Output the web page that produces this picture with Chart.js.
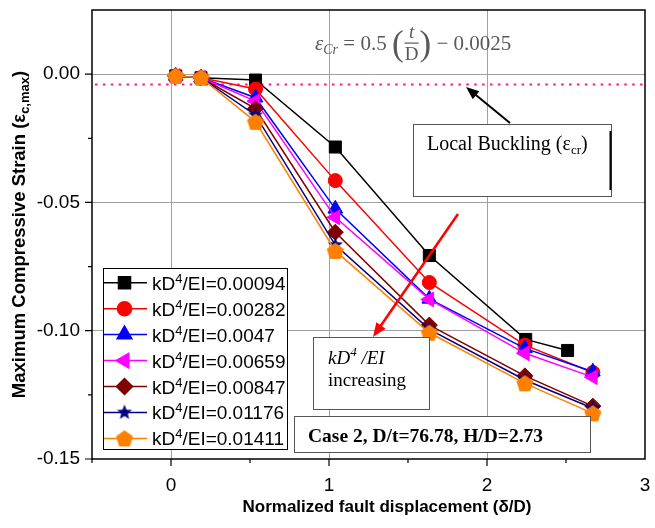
<!DOCTYPE html>
<html lang="en">
<head>
<meta charset="UTF-8">
<title>Maximum Compressive Strain vs Normalized fault displacement</title>
<script src="https://cdn.jsdelivr.net/npm/chart.js"></script>
<style>
  body { margin: 0; background: #fff; }
  #wrap { width: 655px; height: 528px; }
</style>
</head>
<body>
<div id="wrap"><canvas id="strainChart" width="655" height="528"></canvas></div>
<script>
  // kD^4/EI values (legend)
  const stiffness = ['0.00094', '0.00282', '0.0047', '0.00659', '0.00847', '0.01176', '0.01411'];

  // normalized fault displacement (delta/D)
  const dispFirst = [0.03, 0.19, 0.535, 1.04, 1.635, 2.245, 2.51];
  const dispRest = [0.03, 0.19, 0.535, 1.04, 1.635, 2.24, 2.67];

  // maximum compressive strain for each kD^4/EI
  const strainK1 = [-0.0007, -0.0014, -0.0023, -0.0284, -0.0707, -0.1034, -0.1077];
  const strainK2 = [-0.0007, -0.0014, -0.0058, -0.0415, -0.0812, -0.1056, -0.1163];
  const strainK3 = [-0.0007, -0.0014, -0.0092, -0.0525, -0.0876, -0.1069, -0.1160];
  const strainK4 = [-0.0007, -0.0014, -0.0105, -0.0558, -0.0878, -0.1088, -0.1181];
  const strainK5 = [-0.0007, -0.0014, -0.0134, -0.0616, -0.0978, -0.1176, -0.1294];
  const strainK6 = [-0.0007, -0.0014, -0.0160, -0.0666, -0.0995, -0.1192, -0.1302];
  const strainK7 = [-0.0007, -0.0014, -0.0186, -0.0689, -0.1008, -0.1205, -0.1322];

  const xTickLabels = ['0', '1', '2', '3'];
  const yTickLabels = ['0.00', '-0.05', '-0.10', '-0.15'];

  // case 2: D/t = 76.78 -> local buckling strain
  const dOverT = 76.78;
  const bucklingStrain = -(0.5 / dOverT - 0.0025);

  const colors = ['#000000', '#ff0000', '#0000ff', '#ff00ff', '#800000', '#000080', '#ff8000'];

  function makeStar(color, rOut, rIn) {
    const c = document.createElement('canvas');
    c.width = c.height = Math.ceil(rOut * 2 + 2);
    const g = c.getContext('2d');
    const cx = c.width / 2, cy = c.height / 2;
    g.beginPath();
    for (let i = 0; i < 10; i++) {
      const r = i % 2 === 0 ? rOut : rIn;
      const a = -Math.PI / 2 + i * Math.PI / 5;
      g.lineTo(cx + r * Math.cos(a), cy + r * Math.sin(a));
    }
    g.closePath();
    g.fillStyle = color;
    g.fill();
    return c;
  }

  function makePentagon(color, r) {
    const c = document.createElement('canvas');
    c.width = c.height = Math.ceil(r * 2 + 2);
    const g = c.getContext('2d');
    const cx = c.width / 2, cy = c.height / 2 + 0.8;
    g.beginPath();
    for (let i = 0; i < 5; i++) {
      const a = -Math.PI / 2 + i * 2 * Math.PI / 5;
      g.lineTo(cx + r * Math.cos(a), cy + r * Math.sin(a));
    }
    g.closePath();
    g.fillStyle = color;
    g.fill();
    return c;
  }

  const markerStyles = ['rect', 'circle', 'triangle', 'triangle', 'rectRot',
    makeStar('#000080', 8, 3.4), makePentagon('#ff8000', 9)];
  const markerRadius = [8.5, 7, 8.5, 8.5, 8, 8, 9];
  const markerRotation = [0, 0, 0, -90, 0, 0, 0];

  const allStrain = [strainK1, strainK2, strainK3, strainK4, strainK5, strainK6, strainK7];

  const datasets = allStrain.map((ys, i) => {
    const xs = i === 0 ? dispFirst : dispRest;
    return {
      label: 'kD4/EI=' + stiffness[i],
      data: xs.map((x, j) => ({ x: x, y: ys[j] })),
      borderColor: colors[i],
      backgroundColor: colors[i],
      borderWidth: 1.5,
      pointStyle: markerStyles[i],
      pointRadius: markerRadius[i],
      pointHoverRadius: markerRadius[i],
      pointRotation: markerRotation[i],
      pointBorderWidth: 1,
      tension: 0,
      order: 6 - i
    };
  });

  // draw a run of text pieces (for subscripts / superscripts)
  function drawRich(ctx, parts, x, y, align) {
    let total = 0;
    parts.forEach(p => { ctx.font = p.font; p.w = ctx.measureText(p.t).width; total += p.w; });
    let cx = align === 'center' ? x - total / 2 : x;
    ctx.textAlign = 'left';
    ctx.textBaseline = 'alphabetic';
    parts.forEach(p => {
      ctx.font = p.font;
      ctx.fillText(p.t, cx, y + (p.dy || 0));
      cx += p.w;
    });
    return total;
  }

  function drawArrow(ctx, x1, y1, x2, y2, color, width, head) {
    const a = Math.atan2(y2 - y1, x2 - x1);
    ctx.save();
    ctx.strokeStyle = color;
    ctx.fillStyle = color;
    ctx.lineWidth = width;
    ctx.beginPath();
    ctx.moveTo(x1, y1);
    ctx.lineTo(x2 - Math.cos(a) * head * 0.8, y2 - Math.sin(a) * head * 0.8);
    ctx.stroke();
    ctx.beginPath();
    ctx.moveTo(x2, y2);
    ctx.lineTo(x2 - head * Math.cos(a) + head * 0.4 * Math.sin(a), y2 - head * Math.sin(a) - head * 0.4 * Math.cos(a));
    ctx.lineTo(x2 - head * Math.cos(a) - head * 0.4 * Math.sin(a), y2 - head * Math.sin(a) + head * 0.4 * Math.cos(a));
    ctx.closePath();
    ctx.fill();
    ctx.restore();
  }

  const SANS = '"Liberation Sans", Arial, sans-serif';
  const SERIF = '"Liberation Serif", "Times New Roman", serif';

  const extras = {
    id: 'extras',
    beforeDraw(chart) {
      const ctx = chart.ctx;
      ctx.save();
      ctx.fillStyle = '#fff';
      ctx.fillRect(0, 0, chart.width, chart.height);
      ctx.restore();
    },
    beforeDatasetsDraw(chart) {
      // local buckling strain line
      const ctx = chart.ctx, a = chart.chartArea;
      const y = chart.scales.y.getPixelForValue(bucklingStrain);
      ctx.save();
      ctx.strokeStyle = '#ff1493';
      ctx.lineWidth = 2;
      ctx.setLineDash([2.5, 5.4]);
      ctx.beginPath();
      ctx.moveTo(a.left + 3, y);
      ctx.lineTo(a.right, y);
      ctx.stroke();
      ctx.restore();
    },
    afterDraw(chart) {
      const ctx = chart.ctx, a = chart.chartArea;
      const xs = chart.scales.x, ys = chart.scales.y;
      ctx.save();

      // frame and tick marks
      ctx.strokeStyle = '#000';
      ctx.lineWidth = 1.5;
      ctx.strokeRect(a.left, a.top, a.right - a.left, a.bottom - a.top);
      ctx.lineWidth = 1.2;
      ctx.beginPath();
      for (let v = -0.5; v <= 2.5; v += 0.5) {
        const px = xs.getPixelForValue(v);
        const len = Number.isInteger(v) ? 7 : 4;
        ctx.moveTo(px, a.bottom);
        ctx.lineTo(px, a.bottom + len);
      }
      for (let k = 0; k <= 6; k++) {
        const py = ys.getPixelForValue(-0.025 * k);
        const len = k % 2 === 0 ? 7 : 4;
        ctx.moveTo(a.left, py);
        ctx.lineTo(a.left - len, py);
      }
      ctx.stroke();

      // axis titles
      ctx.fillStyle = '#000';
      drawRich(ctx, [{ t: 'Normalized fault displacement (δ/D)', font: 'bold 17px ' + SANS }], 387, 512, 'center');
      ctx.save();
      ctx.translate(25, (a.top + a.bottom) / 2);
      ctx.rotate(-Math.PI / 2);
      drawRich(ctx, [
        { t: 'Maximum Compressive Strain (ε', font: 'bold 18.5px ' + SANS },
        { t: 'c,max', font: 'bold 13px ' + SANS, dy: 4 },
        { t: ')', font: 'bold 18.5px ' + SANS }
      ], 0, 0, 'center');
      ctx.restore();

      // formula
      ctx.fillStyle = '#595959';
      let fx = 315;
      fx += drawRich(ctx, [{ t: 'ε', font: 'italic 21px ' + SERIF }], fx, 50);
      fx += drawRich(ctx, [{ t: 'Cr', font: 'italic 14px ' + SERIF }], fx, 54);
      fx += drawRich(ctx, [{ t: ' = 0.5 ', font: '21px ' + SERIF }], fx, 50);
      fx += drawRich(ctx, [{ t: '(', font: '35px ' + SERIF }], fx, 55) + 1;
      ctx.font = 'italic 19px ' + SERIF;
      ctx.textAlign = 'center';
      ctx.fillText('t', fx + 7, 38);
      ctx.font = '19px ' + SERIF;
      ctx.fillText('D', fx + 7, 60);
      ctx.fillRect(fx, 42.5, 14, 1.2);
      fx += 15;
      fx += drawRich(ctx, [{ t: ')', font: '35px ' + SERIF }], fx, 55);
      drawRich(ctx, [{ t: ' − 0.0025', font: '21px ' + SERIF }], fx, 50);

      // local buckling box + arrow
      ctx.fillStyle = '#fff';
      ctx.fillRect(413, 124, 199, 72);
      ctx.strokeStyle = '#555';
      ctx.lineWidth = 1;
      ctx.strokeRect(413.5, 124.5, 198, 72);
      ctx.strokeStyle = '#000';
      ctx.lineWidth = 2;
      ctx.beginPath();
      ctx.moveTo(610.5, 131);
      ctx.lineTo(610.5, 190);
      ctx.stroke();
      ctx.fillStyle = '#000';
      drawRich(ctx, [
        { t: 'Local Buckling (ε', font: '20px ' + SERIF },
        { t: 'cr', font: '13px ' + SERIF, dy: 4 },
        { t: ')', font: '20px ' + SERIF }
      ], 427, 150);
      drawArrow(ctx, 510, 123, 466, 87, '#000', 2, 13);

      // red "increasing" arrow
      drawArrow(ctx, 458, 214, 373, 337, '#ff0000', 2.5, 14);

      // kD4/EI increasing box
      ctx.fillStyle = '#fff';
      ctx.fillRect(313, 337, 117, 73);
      ctx.strokeStyle = '#555';
      ctx.lineWidth = 1;
      ctx.strokeRect(313.5, 337.5, 116, 72);
      ctx.fillStyle = '#000';
      drawRich(ctx, [
        { t: 'kD', font: 'italic 19px ' + SERIF },
        { t: '4', font: 'italic 13px ' + SERIF, dy: -8 },
        { t: ' /', font: 'italic 19px ' + SERIF },
        { t: 'EI', font: 'italic 19px ' + SERIF }
      ], 328, 364);
      drawRich(ctx, [{ t: 'increasing', font: '19px ' + SERIF }], 328, 386);

      // case box
      ctx.fillStyle = '#fff';
      ctx.fillRect(294, 416, 297, 37);
      ctx.strokeStyle = '#555';
      ctx.strokeRect(294.5, 416.5, 296, 36);
      ctx.fillStyle = '#000';
      drawRich(ctx, [{ t: 'Case 2, D/t=' + dOverT + ', H/D=2.73', font: 'bold 19.5px ' + SERIF }], 308, 442);

      // legend
      ctx.fillStyle = '#fff';
      ctx.fillRect(103, 268, 185, 182);
      ctx.strokeStyle = '#000';
      ctx.lineWidth = 1;
      ctx.strokeRect(103.5, 268.5, 184, 181);
      chart.data.datasets.forEach((ds, i) => {
        const cy = 282.7 + i * 25.95;
        ctx.strokeStyle = ds.borderColor;
        ctx.lineWidth = 1.5;
        ctx.beginPath();
        ctx.moveTo(104, cy);
        ctx.lineTo(147, cy);
        ctx.stroke();
        ctx.fillStyle = ds.backgroundColor;
        Chart.helpers.drawPoint(ctx, {
          pointStyle: ds.pointStyle, radius: ds.pointRadius,
          rotation: ds.pointRotation, borderWidth: 1
        }, 124.5, cy);
        ctx.fillStyle = '#000';
        drawRich(ctx, [
          { t: 'kD', font: '19px ' + SANS },
          { t: '4', font: '13px ' + SANS, dy: -7 },
          { t: '/EI=' + stiffness[i], font: '19px ' + SANS }
        ], 152, cy + 7);
      });

      ctx.restore();
    }
  };

  new Chart(document.getElementById('strainChart'), {
    type: 'line',
    data: { datasets: datasets },
    options: {
      responsive: false,
      animation: false,
      devicePixelRatio: 1,
      layout: { padding: { top: 10, right: 2, left: 0, bottom: 0 } },
      plugins: { legend: { display: false }, tooltip: { enabled: false } },
      scales: {
        x: {
          type: 'linear',
          min: -0.5,
          max: 3,
          border: { display: false },
          grid: {
            drawTicks: false,
            lineWidth: 1,
            color: c => (c.tick && [0, 1, 2].includes(c.tick.value)) ? '#a0a0a0' : 'rgba(0,0,0,0)'
          },
          ticks: {
            stepSize: 0.5,
            autoSkip: false,
            maxRotation: 0,
            padding: 15,
            color: '#000',
            font: { family: SANS, size: 19 },
            callback: v => Number.isInteger(v) ? xTickLabels[v] : ''
          },
          afterFit: s => { s.height = 69; s.paddingLeft = 0; s.paddingRight = 0; }
        },
        y: {
          min: -0.15,
          max: 0.025,
          border: { display: false },
          grid: {
            drawTicks: false,
            lineWidth: 1,
            color: c => {
              if (!c.tick) return 'rgba(0,0,0,0)';
              const m = Math.round(c.tick.value * 1000);
              return (m === 0 || m === -50 || m === -100) ? '#a0a0a0' : 'rgba(0,0,0,0)';
            }
          },
          ticks: {
            stepSize: 0.025,
            autoSkip: false,
            padding: 12,
            color: '#000',
            font: { family: SANS, size: 19 },
            callback: v => {
              const m = Math.round(v * 1000);
              return (m <= 0 && m % 50 === 0) ? yTickLabels[-m / 50] : '';
            }
          },
          afterFit: s => { s.width = 92; s.paddingTop = 0; s.paddingBottom = 0; }
        }
      }
    },
    plugins: [extras]
  });
</script>
</body>
</html>
